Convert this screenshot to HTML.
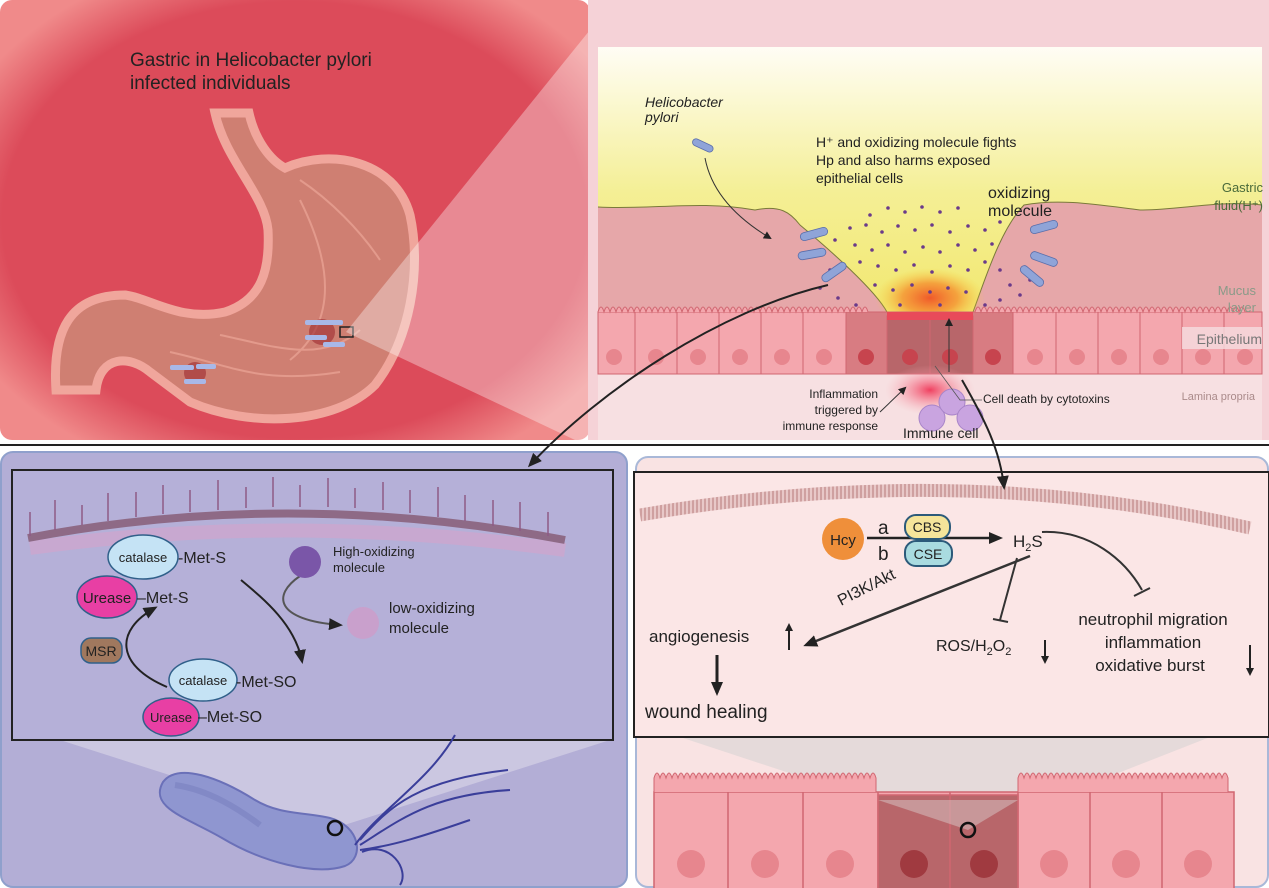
<!DOCTYPE html>
<html><head><meta charset="utf-8"><style>
html,body{margin:0;padding:0;background:#fff}
svg{display:block;font-family:"Liberation Sans",sans-serif}
</style></head><body>
<svg width="1269" height="888" viewBox="0 0 1269 888" xmlns="http://www.w3.org/2000/svg">
<defs>
<radialGradient id="rg" cx="0.5" cy="0.5" r="0.62"><stop offset="0.8" stop-color="#dc4b5a"/><stop offset="1" stop-color="#f08a8a"/></radialGradient>
<linearGradient id="yel" x1="0" y1="0" x2="0" y2="1"><stop offset="0" stop-color="#fffdf5"/><stop offset="0.55" stop-color="#f4ef95"/><stop offset="1" stop-color="#f2e870"/></linearGradient>
<radialGradient id="glow" cx="0.5" cy="0.5" r="0.5"><stop offset="0" stop-color="#f05a2a"/><stop offset="0.5" stop-color="#f5902f" stop-opacity="0.8"/><stop offset="1" stop-color="#f5d040" stop-opacity="0"/></radialGradient>
<radialGradient id="glow2" cx="0.5" cy="0.5" r="0.5"><stop offset="0" stop-color="#f04060"/><stop offset="1" stop-color="#f8b0b8" stop-opacity="0"/></radialGradient>
<marker id="ah" markerWidth="8" markerHeight="8" refX="6" refY="4" orient="auto" markerUnits="userSpaceOnUse"><path d="M0,0 L8,4 L0,8 Z" fill="#222"/></marker>
<marker id="ahs" markerWidth="14" markerHeight="12" refX="11" refY="6" orient="auto" markerUnits="userSpaceOnUse"><path d="M0,0 L14,6 L0,12 Z" fill="#222"/></marker>
<pattern id="mem" width="4" height="4" patternUnits="userSpaceOnUse"><rect width="4" height="4" fill="#e8c8c8"/><rect width="2" height="4" fill="#cfa0a0"/></pattern>
</defs>

<!-- top left -->
<rect x="0" y="0" width="590" height="440" rx="12" fill="url(#rg)"/>
<text x="130" y="66" font-size="19" fill="#222">Gastric in Helicobacter pylori</text>
<text x="130" y="89" font-size="19" fill="#222">infected individuals</text>
<path d="M215 113 L249 113 C255 140 270 160 285 168 C330 148 395 160 410 215 C422 270 410 340 375 385 C335 425 250 428 190 402 L150 372 C130 355 100 355 96 390 L56 390 C52 330 70 295 125 295 C150 298 180 322 225 312 C262 300 270 270 268 230 C265 195 225 160 215 113 Z" fill="#cf7f72" stroke="#f0a69c" stroke-width="9"/>
<path d="M300 200 C330 260 340 320 290 360 M220 335 C270 345 320 365 360 330 M170 352 C230 365 260 385 340 372 M300 180 C330 200 360 230 380 260" stroke="#e39a8c" stroke-width="2" fill="none"/>
<circle cx="322" cy="332" r="13" fill="#9c2a30" opacity="0.6"/>
<circle cx="195" cy="373" r="11" fill="#9c2a30" opacity="0.6"/>
<g fill="#a8b8e8"><rect x="305" y="320" width="38" height="5" rx="2"/><rect x="305" y="335" width="22" height="5" rx="2"/><rect x="323" y="342" width="22" height="5" rx="2"/><rect x="170" y="365" width="24" height="5" rx="2"/><rect x="196" y="364" width="20" height="5" rx="2"/><rect x="184" y="379" width="22" height="5" rx="2"/></g>
<rect x="340" y="327" width="13" height="10" fill="none" stroke="#222" stroke-width="1.5"/>
<polygon points="346,332 598,20 598,440 575,440" fill="#ffffff" opacity="0.35"/>

<!-- top right -->
<rect x="588" y="0" width="681" height="440" fill="#f5d2d7"/>
<rect x="598" y="47" width="664" height="393" fill="#f7e0e2"/>
<rect x="598" y="47" width="664" height="265" fill="url(#yel)"/>
<path d="M598 207 C650 210 700 200 755 210 C780 205 790 212 800 225 C830 250 875 290 887 312 L973 312 C985 280 1000 230 1024 205 C1060 198 1100 205 1140 210 C1180 210 1220 200 1262 205 L1262 312 L598 312 Z" fill="#e6a7a9"/>
<path d="M598 207 C650 210 700 200 755 210 C780 205 790 212 800 225 C830 250 875 290 887 312 M973 312 C985 280 1000 230 1024 205 C1060 198 1100 205 1140 210 C1180 210 1220 200 1262 205" stroke="#7a7a3a" stroke-width="1" fill="none"/>
<ellipse cx="930" cy="298" rx="55" ry="30" fill="url(#glow)"/>
<!-- epithelium -->
<g stroke="#d06670" stroke-width="1">
<rect x="598" y="312" width="664" height="62" fill="#f4a7ae"/>
<rect x="846" y="312" width="167" height="62" fill="#d87c82"/>
<rect x="887" y="316" width="86" height="58" fill="#b8666a"/>
</g>
<g fill="#e7868e">
<circle cx="614" cy="357" r="8"/><circle cx="656" cy="357" r="8"/><circle cx="698" cy="357" r="8"/><circle cx="740" cy="357" r="8"/><circle cx="782" cy="357" r="8"/><circle cx="824" cy="357" r="8"/><circle cx="1035" cy="357" r="8"/><circle cx="1077" cy="357" r="8"/><circle cx="1119" cy="357" r="8"/><circle cx="1161" cy="357" r="8"/><circle cx="1203" cy="357" r="8"/><circle cx="1245" cy="357" r="8"/>
</g>
<g fill="#c7444e"><circle cx="866" cy="357" r="8"/><circle cx="910" cy="357" r="8"/><circle cx="950" cy="357" r="8"/><circle cx="993" cy="357" r="8"/></g>
<g stroke="#d06670" stroke-width="1"><path d="M635 312V374M677 312V374M719 312V374M761 312V374M803 312V374M846 312V374M930 312V374M1013 312V374M1056 312V374M1098 312V374M1140 312V374M1182 312V374M1224 312V374"/></g>
<path d="M598 312 q3 -10 6 0 q3 -10 6 0 q3 -10 6 0 q3 -10 6 0 q3 -10 6 0 q3 -10 6 0 q3 -10 6 0 q3 -10 6 0 q3 -10 6 0 q3 -10 6 0 q3 -10 6 0 q3 -10 6 0 q3 -10 6 0 q3 -10 6 0 q3 -10 6 0 q3 -10 6 0 q3 -10 6 0 q3 -10 6 0 q3 -10 6 0 q3 -10 6 0 q3 -10 6 0 q3 -10 6 0 q3 -10 6 0 q3 -10 6 0 q3 -10 6 0 q3 -10 6 0 q3 -10 6 0 q3 -10 6 0 q3 -10 6 0 q3 -10 6 0 q3 -10 6 0 q3 -10 6 0 q3 -10 6 0 q3 -10 6 0 q3 -10 6 0 q3 -10 6 0 q3 -10 6 0 q3 -10 6 0 q3 -10 6 0 q3 -10 6 0 q3 -10 6 0 q3 -10 6 0 q3 -10 6 0 q3 -10 6 0 q3 -10 6 0" stroke="#d06670" fill="#f4a7ae"/>
<path d="M975 312 q3 -10 6 0 q3 -10 6 0 q3 -10 6 0 q3 -10 6 0 q3 -10 6 0 q3 -10 6 0 q3 -10 6 0 q3 -10 6 0 q3 -10 6 0 q3 -10 6 0 q3 -10 6 0 q3 -10 6 0 q3 -10 6 0 q3 -10 6 0 q3 -10 6 0 q3 -10 6 0 q3 -10 6 0 q3 -10 6 0 q3 -10 6 0 q3 -10 6 0 q3 -10 6 0 q3 -10 6 0 q3 -10 6 0 q3 -10 6 0 q3 -10 6 0 q3 -10 6 0 q3 -10 6 0 q3 -10 6 0 q3 -10 6 0 q3 -10 6 0 q3 -10 6 0 q3 -10 6 0 q3 -10 6 0 q3 -10 6 0 q3 -10 6 0 q3 -10 6 0 q3 -10 6 0 q3 -10 6 0 q3 -10 6 0 q3 -10 6 0 q3 -10 6 0 q3 -10 6 0 q3 -10 6 0 q3 -10 6 0 q3 -10 6 0" stroke="#d06670" fill="#f4a7ae"/>
<rect x="887" y="312" width="86" height="8" fill="#e84a5a"/>
<ellipse cx="930" cy="390" rx="45" ry="25" fill="url(#glow2)"/>
<!-- dots -->
<g fill="#6a3a8a">
<circle cx="870" cy="215" r="1.8"/><circle cx="888" cy="208" r="1.8"/><circle cx="905" cy="212" r="1.8"/><circle cx="922" cy="207" r="1.8"/><circle cx="940" cy="212" r="1.8"/><circle cx="958" cy="208" r="1.8"/><circle cx="850" cy="228" r="1.8"/><circle cx="866" cy="225" r="1.8"/><circle cx="882" cy="232" r="1.8"/><circle cx="898" cy="226" r="1.8"/><circle cx="915" cy="230" r="1.8"/><circle cx="932" cy="225" r="1.8"/><circle cx="950" cy="232" r="1.8"/><circle cx="968" cy="226" r="1.8"/><circle cx="985" cy="230" r="1.8"/><circle cx="1000" cy="222" r="1.8"/><circle cx="835" cy="240" r="1.8"/><circle cx="855" cy="245" r="1.8"/><circle cx="872" cy="250" r="1.8"/><circle cx="888" cy="245" r="1.8"/><circle cx="905" cy="252" r="1.8"/><circle cx="923" cy="247" r="1.8"/><circle cx="940" cy="252" r="1.8"/><circle cx="958" cy="245" r="1.8"/><circle cx="975" cy="250" r="1.8"/><circle cx="992" cy="244" r="1.8"/><circle cx="860" cy="262" r="1.8"/><circle cx="878" cy="266" r="1.8"/><circle cx="896" cy="270" r="1.8"/><circle cx="914" cy="265" r="1.8"/><circle cx="932" cy="272" r="1.8"/><circle cx="950" cy="266" r="1.8"/><circle cx="968" cy="270" r="1.8"/><circle cx="985" cy="262" r="1.8"/><circle cx="875" cy="285" r="1.8"/><circle cx="893" cy="290" r="1.8"/><circle cx="912" cy="285" r="1.8"/><circle cx="930" cy="292" r="1.8"/><circle cx="948" cy="288" r="1.8"/><circle cx="966" cy="292" r="1.8"/><circle cx="830" cy="270" r="1.8"/><circle cx="820" cy="288" r="1.8"/><circle cx="838" cy="298" r="1.8"/><circle cx="856" cy="305" r="1.8"/><circle cx="1000" cy="270" r="1.8"/><circle cx="1010" cy="285" r="1.8"/><circle cx="1000" cy="300" r="1.8"/><circle cx="1020" cy="295" r="1.8"/><circle cx="1030" cy="280" r="1.8"/><circle cx="985" cy="305" r="1.8"/><circle cx="900" cy="305" r="1.8"/><circle cx="940" cy="305" r="1.8"/>
</g>
<!-- bacteria -->
<g fill="#8fa4d8" stroke="#5a6eaa" stroke-width="0.8">
<rect x="692" y="142" width="22" height="7" rx="3.5" transform="rotate(25 703 145)"/>
<rect x="800" y="230" width="28" height="8" rx="4" transform="rotate(-15 814 234)"/>
<rect x="798" y="250" width="28" height="8" rx="4" transform="rotate(-10 812 254)"/>
<rect x="820" y="268" width="28" height="8" rx="4" transform="rotate(-35 834 272)"/>
<rect x="1030" y="223" width="28" height="8" rx="4" transform="rotate(-15 1044 227)"/>
<rect x="1030" y="255" width="28" height="8" rx="4" transform="rotate(20 1044 259)"/>
<rect x="1018" y="272" width="28" height="8" rx="4" transform="rotate(40 1032 276)"/>
</g>
<path d="M705 158 C712 195 740 220 770 238" stroke="#333" fill="none" stroke-width="1" marker-end="url(#ah)"/>
<!-- immune cells -->
<g fill="#c9a4e0" stroke="#a884c8"><circle cx="932" cy="418" r="13"/><circle cx="952" cy="402" r="13"/><circle cx="970" cy="418" r="13"/></g>
<path d="M880 412 L905 388" stroke="#333" fill="none" marker-end="url(#ah)"/>
<path d="M949 372 L949 320" stroke="#333" fill="none" marker-end="url(#ah)"/>
<path d="M935 366 L960 400 L982 400" stroke="#555" fill="none" stroke-width="0.8"/>
<g font-size="14" fill="#222">
<text x="645" y="107" font-style="italic">Helicobacter</text>
<text x="645" y="122" font-style="italic">pylori</text>
<text x="816" y="147">H⁺ and oxidizing molecule fights</text>
<text x="816" y="165">Hp and also harms exposed</text>
<text x="816" y="183">epithelial cells</text>
<text x="988" y="198" font-size="16">oxidizing</text>
<text x="988" y="216" font-size="16">molecule</text>
<text x="1263" y="192" text-anchor="end" fill="#4a6a3a" font-size="13">Gastric</text>
<text x="1263" y="210" text-anchor="end" fill="#4a6a3a" font-size="13">fluid(H⁺)</text>
<text x="1256" y="295" text-anchor="end" fill="#8a9a88" font-size="13">Mucus</text>
<text x="1256" y="312" text-anchor="end" fill="#8a9a88" font-size="13">layer</text>
</g>
<rect x="1182" y="327" width="80" height="22" fill="#f5dde0" opacity="0.8"/>
<text x="1262" y="344" text-anchor="end" font-size="14" fill="#777">Epithelium</text>
<text x="1255" y="400" text-anchor="end" font-size="11" fill="#aa8a8a">Lamina propria</text>
<g font-size="12" fill="#222">
<text x="878" y="398" text-anchor="end">Inflammation</text>
<text x="878" y="414" text-anchor="end">triggered by</text>
<text x="878" y="430" text-anchor="end">immune response</text>
<text x="983" y="403">Cell death by cytotoxins</text>
<text x="903" y="438" font-size="14">Immune cell</text>
</g>

<line x1="0" y1="445" x2="1269" y2="445" stroke="#222" stroke-width="2"/>

<!-- bottom left -->
<rect x="1" y="452" width="626" height="435" rx="12" fill="#b3aed6" stroke="#8fa0cc" stroke-width="2"/>
<polygon points="60,740 610,740 335,828" fill="#d5d2e6" opacity="0.7"/>
<rect x="12" y="470" width="601" height="270" fill="#b5b0d8" stroke="#222" stroke-width="2"/>
<path d="M30 548 Q290 512 565 550" stroke="#e0a0c8" stroke-width="14" fill="none" opacity="0.45"/>
<path d="M28 538 Q290 488 565 540" stroke="#8e6a86" stroke-width="8" fill="none"/>
<g stroke="#8e5a86" stroke-width="1.5" fill="none">
<path d="M30 536V512M55 530V500M82 525V505M108 521V493M136 517V492M163 514V485M190 512V490M218 510V480M246 508V487M273 507V477M300 507V485M328 507V478M355 508V488M383 510V482M410 513V490M438 517V487M465 521V495M493 526V500M520 531V502M548 536V512"/>
</g>
<path d="M241 580 C265 600 295 625 302 661" stroke="#222" stroke-width="2" fill="none" marker-end="url(#ahs)"/>
<path d="M300 576 C272 595 275 620 340 625" stroke="#555" stroke-width="2" fill="none" marker-end="url(#ahs)"/>
<path d="M167 687 C115 665 115 630 155 608" stroke="#222" stroke-width="2" fill="none" marker-end="url(#ahs)"/>
<ellipse cx="143" cy="557" rx="35" ry="22" fill="#c5e3f5" stroke="#30608a" stroke-width="1.5"/>
<text x="143" y="562" font-size="13" text-anchor="middle" fill="#222">catalase</text>
<text x="178" y="563" font-size="16" fill="#222">-Met-S</text>
<ellipse cx="107" cy="597" rx="30" ry="21" fill="#e83fa4" stroke="#30608a" stroke-width="1.5"/>
<text x="107" y="603" font-size="15" text-anchor="middle" fill="#222">Urease</text>
<text x="137" y="603" font-size="16" fill="#222">–Met-S</text>
<rect x="81" y="638" width="41" height="25" rx="10" fill="#a0785e" stroke="#30608a" stroke-width="1.5"/>
<text x="101" y="656" font-size="14" text-anchor="middle" fill="#222">MSR</text>
<ellipse cx="203" cy="680" rx="34" ry="21" fill="#c5e3f5" stroke="#30608a" stroke-width="1.5"/>
<text x="203" y="685" font-size="13" text-anchor="middle" fill="#222">catalase</text>
<text x="236" y="687" font-size="16" fill="#222">-Met-SO</text>
<ellipse cx="171" cy="717" rx="28" ry="19" fill="#e83fa4" stroke="#30608a" stroke-width="1.5"/>
<text x="171" y="722" font-size="13" text-anchor="middle" fill="#222">Urease</text>
<text x="198" y="722" font-size="16" fill="#222">–Met-SO</text>
<circle cx="305" cy="562" r="16" fill="#7a56a8"/>
<text x="333" y="556" font-size="13" fill="#222">High-oxidizing</text>
<text x="333" y="572" font-size="13" fill="#222">molecule</text>
<circle cx="363" cy="623" r="16" fill="#c9a0cc"/>
<text x="389" y="613" font-size="15" fill="#222">low-oxidizing</text>
<text x="389" y="633" font-size="15" fill="#222">molecule</text>
<!-- bacterium -->
<path d="M163 782 C178 762 220 778 255 800 C280 815 305 812 330 818 C360 826 365 858 345 866 C315 876 262 862 222 838 C188 818 148 808 163 782 Z" fill="#8f96d0" stroke="#6a70b8" stroke-width="2"/>
<path d="M175 785 C210 790 240 810 260 825" stroke="#7a80c0" stroke-width="6" fill="none" opacity="0.6"/>
<g stroke="#3a3e9a" stroke-width="2" fill="none">
<path d="M360 840 C390 805 420 780 508 770"/><path d="M360 845 C400 820 430 795 510 790"/><path d="M362 852 C390 840 410 870 400 885"/><path d="M355 845 C380 810 430 780 455 735"/><path d="M360 850 C400 845 440 830 470 820"/>
</g>
<circle cx="335" cy="828" r="7" fill="none" stroke="#111" stroke-width="2.5"/>

<!-- bottom right -->
<rect x="636" y="457" width="632" height="430" rx="12" fill="#f9e3e3" stroke="#a9b8d8" stroke-width="2"/>
<polygon points="680,737 1210,737 968,832" fill="#e2d8d8" opacity="0.9"/>
<g stroke="#d06670" stroke-width="1.5">
<rect x="654" y="792" width="580" height="100" fill="#f4a7ae"/>
<rect x="878" y="795" width="140" height="97" fill="#b8666a"/>
<path d="M728 792V888M803 792V888M878 792V888M950 792V888M1018 792V888M1090 792V888M1162 792V888"/>
</g>
<path d="M654 792 V778 q3 -10 6 0 q3 -10 6 0 q3 -10 6 0 q3 -10 6 0 q3 -10 6 0 q3 -10 6 0 q3 -10 6 0 q3 -10 6 0 q3 -10 6 0 q3 -10 6 0 q3 -10 6 0 q3 -10 6 0 q3 -10 6 0 q3 -10 6 0 q3 -10 6 0 q3 -10 6 0 q3 -10 6 0 q3 -10 6 0 q3 -10 6 0 q3 -10 6 0 q3 -10 6 0 q3 -10 6 0 q3 -10 6 0 q3 -10 6 0 q3 -10 6 0 q3 -10 6 0 q3 -10 6 0 q3 -10 6 0 q3 -10 6 0 q3 -10 6 0 q3 -10 6 0 q3 -10 6 0 q3 -10 6 0 q3 -10 6 0 q3 -10 6 0 q3 -10 6 0 q3 -10 6 0 V792" stroke="#d06670" fill="#f4a7ae"/>
<path d="M1018 792 V778 q3 -10 6 0 q3 -10 6 0 q3 -10 6 0 q3 -10 6 0 q3 -10 6 0 q3 -10 6 0 q3 -10 6 0 q3 -10 6 0 q3 -10 6 0 q3 -10 6 0 q3 -10 6 0 q3 -10 6 0 q3 -10 6 0 q3 -10 6 0 q3 -10 6 0 q3 -10 6 0 q3 -10 6 0 q3 -10 6 0 q3 -10 6 0 q3 -10 6 0 q3 -10 6 0 q3 -10 6 0 q3 -10 6 0 q3 -10 6 0 q3 -10 6 0 q3 -10 6 0 q3 -10 6 0 q3 -10 6 0 q3 -10 6 0 q3 -10 6 0 q3 -10 6 0 q3 -10 6 0 q3 -10 6 0 q3 -10 6 0 q3 -10 6 0 V792" stroke="#d06670" fill="#f4a7ae"/>
<polygon points="878,800 1018,800 968,830" fill="#d8c8c8" opacity="0.5"/>
<g fill="#e7868e"><circle cx="691" cy="864" r="14"/><circle cx="765" cy="864" r="14"/><circle cx="840" cy="864" r="14"/><circle cx="1054" cy="864" r="14"/><circle cx="1126" cy="864" r="14"/><circle cx="1198" cy="864" r="14"/></g>
<g fill="#a03a40"><circle cx="914" cy="864" r="14"/><circle cx="984" cy="864" r="14"/></g>
<circle cx="968" cy="830" r="7" fill="none" stroke="#111" stroke-width="2.5"/>
<rect x="634" y="472" width="635" height="265" fill="#fbe6e6" stroke="#222" stroke-width="2"/>
<path d="M640 515 Q960 460 1250 528" stroke="url(#mem)" stroke-width="13" fill="none"/>
<circle cx="843" cy="539" r="21" fill="#ef8f3a"/>
<text x="843" y="545" font-size="15" text-anchor="middle" fill="#222">Hcy</text>
<text x="878" y="534" font-size="19" fill="#222">a</text>
<text x="878" y="560" font-size="19" fill="#222">b</text>
<line x1="867" y1="538" x2="1000" y2="538" stroke="#222" stroke-width="2.5" marker-end="url(#ahs)"/>
<rect x="905" y="515" width="45" height="24" rx="11" fill="#f5e49a" stroke="#2c5a7a" stroke-width="2"/>
<text x="927" y="532" font-size="14" text-anchor="middle" fill="#222">CBS</text>
<rect x="905" y="541" width="47" height="25" rx="11" fill="#a9dbe0" stroke="#2c5a7a" stroke-width="2"/>
<text x="928" y="559" font-size="14" text-anchor="middle" fill="#222">CSE</text>
<text x="1013" y="547" font-size="17" fill="#222">H<tspan font-size="11" dy="4">2</tspan><tspan dy="-4">S</tspan></text>
<text x="0" y="0" font-size="16" fill="#222" transform="translate(841,606) rotate(-27)">PI3K/Akt</text>
<path d="M1030 556 L806 645" stroke="#333" stroke-width="2.5" fill="none" marker-end="url(#ahs)"/>
<path d="M1017 558 L1000 620 M993 619 L1008 622" stroke="#333" stroke-width="2" fill="none"/>
<path d="M1042 532 C1090 530 1125 560 1142 590 M1134 596 L1150 588" stroke="#333" stroke-width="2" fill="none"/>
<text x="649" y="642" font-size="17" fill="#222">angiogenesis</text>
<line x1="789" y1="650" x2="789" y2="625" stroke="#222" stroke-width="2" marker-end="url(#ah)"/>
<line x1="717" y1="655" x2="717" y2="693" stroke="#222" stroke-width="3" marker-end="url(#ahs)"/>
<text x="645" y="718" font-size="19" fill="#222">wound healing</text>
<text x="936" y="651" font-size="16" fill="#222">ROS/H<tspan font-size="11" dy="4">2</tspan><tspan dy="-4">O</tspan><tspan font-size="11" dy="4">2</tspan></text>
<line x1="1045" y1="640" x2="1045" y2="662" stroke="#222" stroke-width="2" marker-end="url(#ah)"/>
<text x="1153" y="625" font-size="17" text-anchor="middle" fill="#222">neutrophil migration</text>
<text x="1153" y="648" font-size="17" text-anchor="middle" fill="#222">inflammation</text>
<text x="1150" y="671" font-size="17" text-anchor="middle" fill="#222">oxidative burst</text>
<line x1="1250" y1="645" x2="1250" y2="674" stroke="#222" stroke-width="2" marker-end="url(#ah)"/>

<!-- long arrows -->
<path d="M828 285 C720 310 600 390 530 465" stroke="#222" stroke-width="2" fill="none" marker-end="url(#ahs)"/>
<path d="M962 380 C985 420 1000 450 1004 487" stroke="#222" stroke-width="2" fill="none" marker-end="url(#ahs)"/>
</svg>
</body></html>
